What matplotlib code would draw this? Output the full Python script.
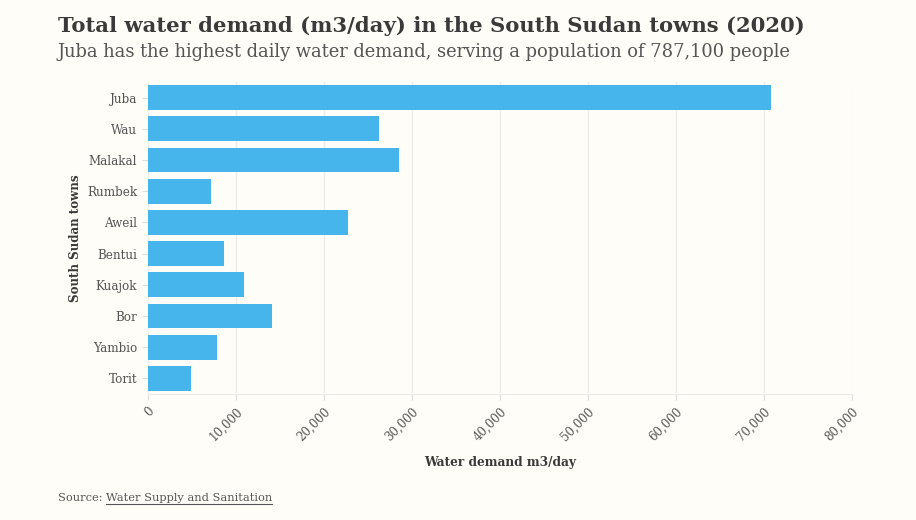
import matplotlib
matplotlib.use("Agg")
import matplotlib.pyplot as plt
from matplotlib.ticker import FuncFormatter
from matplotlib.lines import Line2D

towns = ["Juba", "Wau", "Malakal", "Rumbek", "Aweil", "Bentui", "Kuajok",
         "Bor", "Yambio", "Torit"]
demand = [70800, 26300, 28600, 7200, 22800, 8700, 10950, 14150, 7900, 4950]
x_ticks = [0, 10000, 20000, 30000, 40000, 50000, 60000, 70000, 80000]

title = "Total water demand (m3/day) in the South Sudan towns (2020)"
subtitle = "Juba has the highest daily water demand, serving a population of 787,100 people"

bg = "#fffdf7"
bar_color = "#45b5ec"
text_dark = "#3a3a3a"
text_grey = "#555555"

plt.rcParams["font.family"] = ["DejaVu Serif"]

fig = plt.figure(figsize=(9.16, 5.2), dpi=100, facecolor=bg)
ax = fig.add_axes([147.7 / 916, 1 - 394 / 520, 704 / 916, 312 / 520])
ax.set_facecolor(bg)

ypos = list(range(len(towns)))
ax.barh(ypos, demand, height=0.8, color=bar_color, zorder=3)
ax.set_ylim(len(towns) - 0.5, -0.5)
ax.set_yticks(ypos)
ax.set_yticklabels(towns, fontsize=8.6, color=text_grey)
ax.set_xlim(0, 80000)
ax.set_xticks(x_ticks)
ax.xaxis.set_major_formatter(FuncFormatter(lambda v, p: f"{int(v):,}"))
for lab in ax.get_xticklabels():
    lab.set_rotation(45)
    lab.set_ha("right")
    lab.set_va("top")
    lab.set_rotation_mode("anchor")
    lab.set_fontsize(8.6)
    lab.set_color(text_grey)

ax.grid(axis="x", color="#ebebe8", linewidth=0.9, zorder=0)
for s in ["top", "right", "left"]:
    ax.spines[s].set_visible(False)
ax.spines["bottom"].set_color("#ebebe8")
ax.tick_params(axis="both", length=4, color="#dddddd", width=0.8)
ax.tick_params(axis="x", pad=4)

ax.set_ylabel("South Sudan towns", fontsize=8.6, fontweight="bold",
              color=text_dark, labelpad=4)
ax.set_xlabel("Water demand m3/day", fontsize=8.7, fontweight="bold",
              color=text_dark, labelpad=9)

fig.text(58 / 916, 1 - 32 / 520, title, fontsize=15.2, fontweight="bold",
         color=text_dark, va="baseline")
fig.text(58 / 916, 1 - 57 / 520, subtitle, fontsize=12.9, color=text_grey,
         va="baseline")

src = fig.text(58 / 916, 1 - 501 / 520, "Source: ", fontsize=8.2, color=text_grey,
               va="baseline")
fig.canvas.draw()
r = fig.canvas.get_renderer()
bb = src.get_window_extent(renderer=r)
link_x = bb.x1 / fig.bbox.width
link = fig.text(link_x, 1 - 501 / 520, "Water Supply and Sanitation", fontsize=8.2,
                color=text_grey, va="baseline")
lb = link.get_window_extent(renderer=r)
uy = 1 - 503.5 / 520
fig.add_artist(Line2D([lb.x0 / fig.bbox.width, lb.x1 / fig.bbox.width], [uy, uy],
                      transform=fig.transFigure, color=text_grey, linewidth=0.8))

fig.savefig("out.png", dpi=100, facecolor=bg)
